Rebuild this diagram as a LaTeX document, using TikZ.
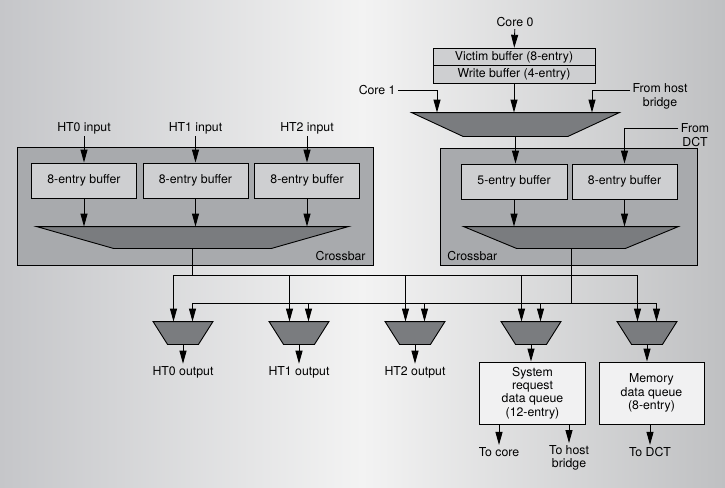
\documentclass[tikz,border=0pt]{standalone}
\usepackage{fontspec}
\setmainfont{TeX Gyre Heros}
\usepackage{xcolor}
\usetikzlibrary{arrows.meta}
\usetikzlibrary{shapes}

\definecolor{bgleft}{RGB}{197,198,201}
\definecolor{bgmid}{RGB}{243,243,243}
\definecolor{bgright}{RGB}{191,192,194}
\definecolor{xbarfill}{RGB}{168,170,173}
\definecolor{buffill}{RGB}{206,207,209}
\definecolor{muxfill}{RGB}{122,124,127}
\definecolor{queuefill}{RGB}{241,241,242}

\begin{document}
\begin{tikzpicture}[-{Triangle[width=7pt,length=13pt]},
                    x=1pt,y=-1pt,line width=0.9pt]
\tikzstyle{every node}=[font=\fontsize{12.3}{13.3}\selectfont,inner sep=2pt]
\tikzstyle{every edge}=[draw,-{Triangle[width=7pt,length=13pt]}]
\tikzstyle{both}=[{Triangle[width=7pt,length=13pt]}-{Triangle[width=7pt,length=13pt]}]
\tikzstyle{crossbar}=[draw,fill=xbarfill,inner sep=0pt]
\tikzstyle{buffer}=[draw,fill=buffill,minimum width=105pt,minimum height=35pt,inner sep=0pt]
\tikzstyle{muxbox}=[inner sep=0pt]
\tikzstyle{smallmux}=[muxbox,minimum width=59pt,minimum height=22pt]
\tikzstyle{muxshape}=[-,draw,fill=muxfill,line join=miter]
\tikzstyle{queue}=[draw,fill=queuefill,align=center,minimum width=106pt,
                   minimum height=62pt,inner sep=0pt]
\tikzstyle{signal}=[align=center]

\useasboundingbox (0,0) rectangle (725,487);
\shade[left color=bgleft,right color=bgmid] (0,0) rectangle (362,487);
\shade[left color=bgmid,right color=bgright] (362,0) rectangle (725,487);

\path
node[crossbar,minimum width=356pt,minimum height=118pt] (xbarL) at (195,206) {}
node[buffer] (bufL0) at (84,180.5) {8-entry buffer}
(bufL0) ++ (111.5,0) node[buffer] (bufL1) {8-entry buffer}
(bufL1) ++ (111.5,0) node[buffer] (bufL2) {8-entry buffer}
(bufL0) ++ (0,-52.5) node[signal] (inL0) {HT0 input}
(bufL1) ++ (0,-52.5) node[signal] (inL1) {HT1 input}
(bufL2) ++ (0,-52.5) node[signal] (inL2) {HT2 input}
node[muxbox,minimum width=311pt,minimum height=21pt] (muxL) at (192.5,237.5) {}
node[anchor=east] (xbarLname) at (368,256) {Crossbar};

\path
node[signal] (core0) at (515,22) {Core 0}
node[buffer,minimum width=162pt,minimum height=17.5pt] (vict) at (514,57) {Victim buffer (8-entry)}
(vict) ++ (0,17.5) node[buffer,minimum width=162pt,minimum height=17.5pt] (write) {Write buffer (4-entry)}
node[muxbox,minimum width=207pt,minimum height=23pt] (muxT) at (515.5,124.5) {}
node[signal,anchor=east] (core1) at (398,90) {Core 1}
node[signal] (host) at (660,96.5) {From host\\bridge}
node[crossbar,minimum width=257pt,minimum height=117pt] (xbarR) at (568.5,206.5) {}
node[buffer,minimum width=106pt] (buf5) at (514,181.5) {5-entry buffer}
(buf5) ++ (110.5,0) node[buffer] (bufR8) {8-entry buffer}
node[signal] (dct) at (695,135) {From\\DCT}
node[muxbox,minimum width=214pt,minimum height=21pt] (muxR) at (571,237.5) {}
node[anchor=west] (xbarRname) at (445,256) {Crossbar};

\path
node[smallmux] (m0) at (183,333) {}
(m0) ++ (116,0) node[smallmux] (m1) {}
(m1) ++ (116,0) node[smallmux] (m2) {}
(m2) ++ (116,0) node[smallmux] (m3) {}
(m3) ++ (116,0) node[smallmux] (m4) {}
(m0) ++ (0,39) node[signal] (out0) {HT0 output}
(m1) ++ (0,39) node[signal] (out1) {HT1 output}
(m2) ++ (0,39) node[signal] (out2) {HT2 output}
node[queue] (sysq) at (532.5,393) {System\\request\\data queue\\(12-entry)}
node[queue,minimum width=105pt] (memq) at (651.5,393) {Memory\\data queue\\(8-entry)}
node[signal] (tocore) at (499,452) {To core}
node[signal] (tohost) at (569,458) {To host\\bridge}
node[signal] (todct) at (650,452) {To DCT};

\foreach \m/\d in {muxL/77,muxT/51.5,muxR/53,m0/14.5,m1/14.5,m2/14.5,m3/14.5,m4/14.5}
  \draw[muxshape] (\m.north west) -- (\m.north east)
    -- ([xshift=-\d pt]\m.south east) -- ([xshift=\d pt]\m.south west) -- cycle;

\coordinate (busA) at (0,275);
\coordinate (busB) at (0,303.5);
\coordinate (muxTa) at ([xshift=-78.5pt]muxT.north);
\coordinate (muxTc) at ([xshift=76.5pt]muxT.north);
\coordinate (dctin) at (dct.west |- 0,128);
\foreach \m in {m0,m1,m2,m3,m4} {
  \coordinate (\m a) at ([xshift=-9.5pt]\m.north);
  \coordinate (\m b) at ([xshift=9.5pt]\m.north);
}

\path (inL0) edge (bufL0)
      (inL1) edge (bufL1)
      (inL2) edge (bufL2)
      (bufL0) edge (bufL0 |- muxL.north)
      (bufL1) edge (bufL1 |- muxL.north)
      (bufL2) edge (bufL2 |- muxL.north)
      (core0) edge (vict)
      (write) edge (write |- muxT.north)
      (muxT.south) edge (muxT.south |- buf5.north)
      (buf5) edge (buf5 |- muxR.north)
      (bufR8) edge (bufR8 |- muxR.north);

\draw (core1) -| (muxTa);
\draw (core1 -| host.west) -| (muxTc);
\draw (dctin) -| (bufR8);

\draw[-] (muxL.south) -- (muxL.south |- busA);
\draw[-] (muxR.south) -- (muxR.south |- busB);
\draw[both] (m0a) -- (m0a |- busA) -- (m4a |- busA) -- (m4a);
\draw[both] (m0b) -- (m0b |- busB) -- (m4b |- busB) -- (m4b);

\path (m1a |- busA) edge (m1a)
      (m2a |- busA) edge (m2a)
      (m3a |- busA) edge (m3a)
      (m1b |- busB) edge (m1b)
      (m2b |- busB) edge (m2b)
      (m3b |- busB) edge (m3b)
      (m0.south) edge (out0)
      (m1.south) edge (out1)
      (m2.south) edge (out2)
      (m3.south) edge (m3.south |- sysq.north)
      (m4.south) edge (m4.south |- memq.north)
      (tocore |- sysq.south) edge (tocore)
      (tohost |- sysq.south) edge (tohost)
      (todct |- memq.south) edge (todct);
\end{tikzpicture}
\end{document}
